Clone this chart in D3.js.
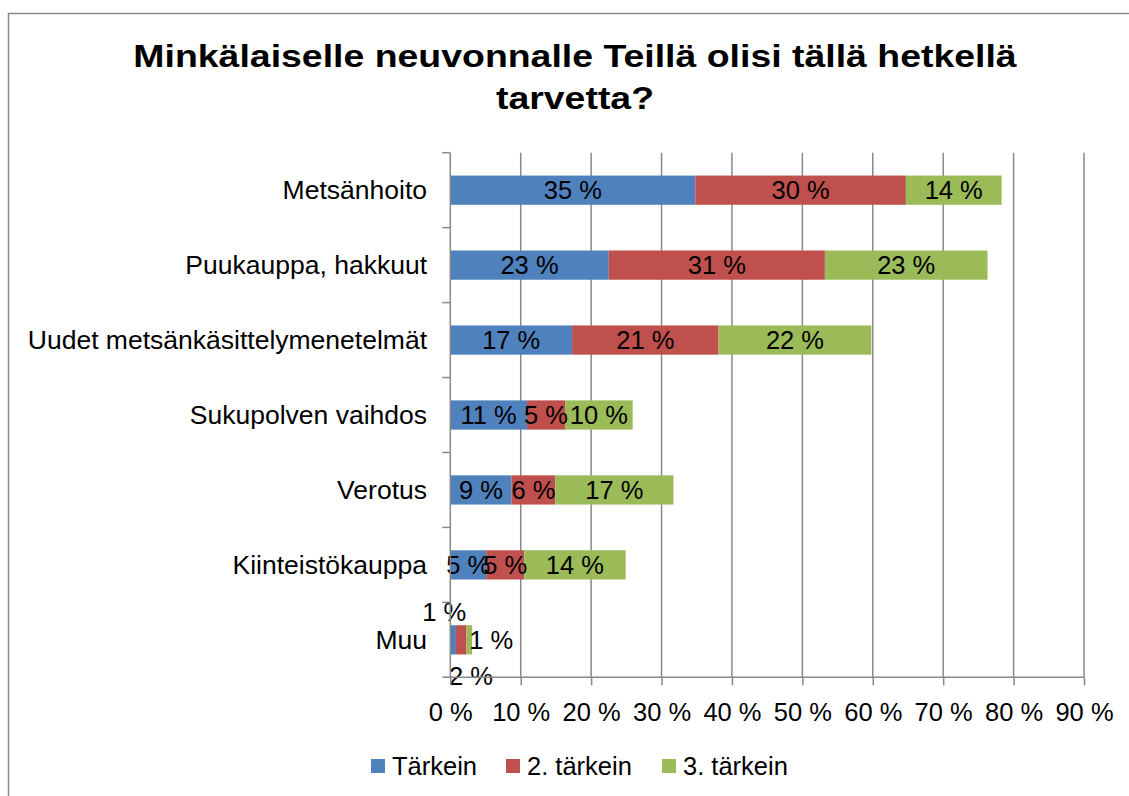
<!DOCTYPE html>
<html>
<head>
<meta charset="utf-8">
<script src="https://cdn.jsdelivr.net/npm/d3@7"></script>
<style>
  body { margin: 0; background: #fff; }
  svg { font-family: "Liberation Sans", Arial, sans-serif; }
</style>
</head>
<body>
<svg id="chart" width="1129" height="796"></svg>
<script>
// chart data
var categories = ["Metsänhoito", "Puukauppa, hakkuut", "Uudet metsänkäsittelymenetelmät",
  "Sukupolven vaihdos", "Verotus", "Kiinteistökauppa", "Muu"];
var seriesNames = ["Tärkein", "2. tärkein", "3. tärkein"];
var tarkein  = [0.348, 0.225, 0.173, 0.109, 0.087, 0.051, 0.008];
var tarkein2 = [0.299, 0.307, 0.208, 0.054, 0.062, 0.054, 0.015];
var tarkein3 = [0.136, 0.231, 0.217, 0.096, 0.168, 0.144, 0.008];
var xTicks = [0, 0.1, 0.2, 0.3, 0.4, 0.5, 0.6, 0.7, 0.8, 0.9];
var colors = ["#4F81BD", "#C0504D", "#9BBB59"];

var svg = d3.select("#chart");
var fs = 25.5; // body text size

// outer frame (runs off the picture on right and bottom)
svg.append("rect")
  .attr("x", 8.5).attr("y", 13.5)
  .attr("width", 1200).attr("height", 900)
  .attr("fill", "none").attr("stroke", "#888").attr("stroke-width", 1.5);

// title, a bit wider than plain bold
var title = svg.append("text")
  .attr("transform", "translate(575,0) scale(1.17,1)")
  .attr("text-anchor", "middle")
  .attr("font-weight", "bold")
  .attr("font-size", 32)
  .attr("fill", "#000");
title.append("tspan").attr("x", 0).attr("y", 67).text("Minkälaiselle neuvonnalle Teillä olisi tällä hetkellä");
title.append("tspan").attr("x", 0).attr("y", 109).text("tarvetta?");

var plotLeft = 450.3, plotRight = 1084, plotTop = 152.7, plotBottom = 677.3;

var x = d3.scaleLinear().domain([0, 0.9]).range([plotLeft, plotRight]);
var y = d3.scaleBand().domain(categories).range([plotTop, plotBottom]);
var barH = y.bandwidth() * 0.39;

// gridlines
svg.append("g").selectAll("line")
  .data(xTicks.slice(1))
  .join("line")
  .attr("x1", function(d) { return x(d); })
  .attr("x2", function(d) { return x(d); })
  .attr("y1", plotTop).attr("y2", plotBottom)
  .attr("stroke", "#888").attr("stroke-width", 1.5);

// stacked data
var rows = categories.map(function(c, i) {
  return { cat: c, s0: tarkein[i], s1: tarkein2[i], s2: tarkein3[i] };
});
var stack = d3.stack().keys(["s0", "s1", "s2"])(rows);

var layers = svg.append("g").selectAll("g")
  .data(stack)
  .join("g")
  .attr("fill", function(d, i) { return colors[i]; });

layers.selectAll("rect")
  .data(function(d) { return d; })
  .join("rect")
  .attr("x", function(d) { return x(d[0]); })
  .attr("width", function(d) { return x(d[1]) - x(d[0]); })
  .attr("y", function(d) { return y(d.data.cat) + (y.bandwidth() - barH) / 2; })
  .attr("height", barH);

// data labels; tiny "Muu" segments get labels moved around the bar
var labelG = svg.append("g")
  .attr("font-size", fs)
  .attr("fill", "#000")
  .attr("text-anchor", "middle");

stack.forEach(function(layer, si) {
  layer.forEach(function(d) {
    var v = d[1] - d[0];
    var cx = x((d[0] + d[1]) / 2);
    var cy = y(d.data.cat) + y.bandwidth() / 2;
    if (d.data.cat === "Muu") {
      if (si === 0) { cx = x(d[0]) - 6; cy -= 28; }
      if (si === 1) { cx = x(d[0]) + 15; cy += 36; }
      if (si === 2) { cx = x(d[1]) + 19; }
    }
    labelG.append("text")
      .attr("x", cx)
      .attr("y", cy)
      .attr("dy", "0.35em")
      .text(Math.round(v * 100) + " %");
  });
});

// x axis
var xAxis = d3.axisBottom(x)
  .tickValues(xTicks)
  .tickSize(8)
  .tickPadding(18)
  .tickFormat(function(d) { return Math.round(d * 100) + " %"; });

var gx = svg.append("g")
  .attr("transform", "translate(0," + plotBottom + ")")
  .call(xAxis);
gx.select(".domain").remove();
gx.selectAll(".tick line").attr("stroke", "#888").attr("stroke-width", 1.5);
gx.selectAll(".tick text")
  .attr("font-size", fs)
  .attr("font-family", "Liberation Sans, Arial, sans-serif")
  .attr("fill", "#000");
gx.append("line")
  .attr("x1", plotLeft - 8).attr("x2", plotRight)
  .attr("y1", 0).attr("y2", 0)
  .attr("stroke", "#888").attr("stroke-width", 1.5);

// y axis line + ticks at band boundaries
var gy = svg.append("g");
gy.append("line")
  .attr("x1", plotLeft).attr("x2", plotLeft)
  .attr("y1", plotTop).attr("y2", plotBottom)
  .attr("stroke", "#888").attr("stroke-width", 1.5);
gy.selectAll("line.tk")
  .data(categories)
  .join("line")
  .attr("class", "tk")
  .attr("x1", plotLeft - 8).attr("x2", plotLeft)
  .attr("y1", function(d) { return y(d); })
  .attr("y2", function(d) { return y(d); })
  .attr("stroke", "#888").attr("stroke-width", 1.5);
gy.append("g")
  .attr("transform", "translate(427,0) scale(1.04,1)")
  .selectAll("text")
  .data(categories)
  .join("text")
  .attr("x", 0)
  .attr("y", function(d) { return y(d) + y.bandwidth() / 2; })
  .attr("dy", "0.35em")
  .attr("text-anchor", "end")
  .attr("font-size", fs)
  .attr("fill", "#000")
  .text(function(d) { return d; });

// legend
var legendX = [371, 506, 662];
var legend = svg.append("g").selectAll("g")
  .data(seriesNames)
  .join("g")
  .attr("transform", function(d, i) { return "translate(" + legendX[i] + ",759)"; });
legend.append("rect")
  .attr("width", 14).attr("height", 14)
  .attr("fill", function(d, i) { return colors[i]; });
legend.append("text")
  .attr("x", 21).attr("y", 7)
  .attr("dy", "0.35em")
  .attr("font-size", fs)
  .attr("fill", "#000")
  .text(function(d) { return d; });
</script>
</body>
</html>
